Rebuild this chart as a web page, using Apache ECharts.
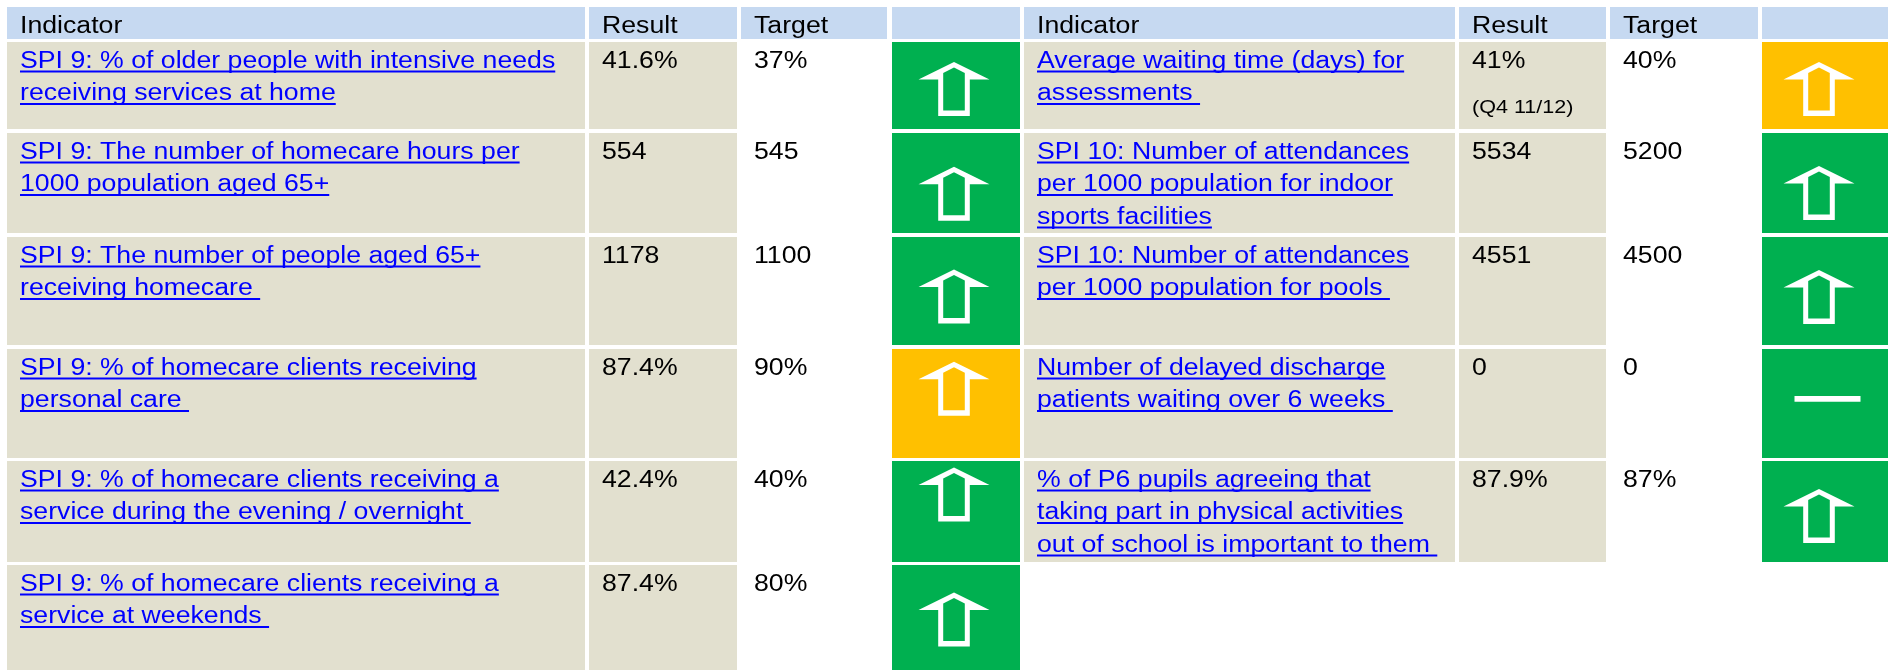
<!DOCTYPE html>
<html><head><meta charset="utf-8">
<script src="https://cdn.jsdelivr.net/npm/echarts@6/dist/echarts.min.js"></script>
<style>html,body{margin:0;padding:0;background:#fff}#c{width:1890px;height:670px}</style>
</head><body><div id="c"></div>
<script>
// ---------- data ----------
const headers = ['Indicator', 'Result', 'Target', ''];
const leftIndicators = [
  'SPI 9: % of older people with intensive needs\nreceiving services at home',
  'SPI 9: The number of homecare hours per\n1000 population aged 65+',
  'SPI 9: The number of people aged 65+\nreceiving homecare ',
  'SPI 9: % of homecare clients receiving\npersonal care ',
  'SPI 9: % of homecare clients receiving a\nservice during the evening / overnight ',
  'SPI 9: % of homecare clients receiving a\nservice at weekends '
];
const leftResults = ['41.6%', '554', '1178', '87.4%', '42.4%', '87.4%'];
const leftTargets = ['37%', '545', '1100', '90%', '40%', '80%'];
const leftStatus = ['green', 'green', 'green', 'amber', 'green', 'green'];
const leftTrend = ['up', 'up', 'up', 'up', 'up', 'up'];

const rightIndicators = [
  'Average waiting time (days) for\nassessments ',
  'SPI 10: Number of attendances\nper 1000 population for indoor\nsports facilities',
  'SPI 10: Number of attendances\nper 1000 population for pools ',
  'Number of delayed discharge\npatients waiting over 6 weeks ',
  '% of P6 pupils agreeing that\ntaking part in physical activities\nout of school is important to them '
];
const rightResults = ['41%', '5534', '4551', '0', '87.9%'];
const rightResultNotes = ['(Q4 11/12)', '', '', '', ''];
const rightTargets = ['40%', '5200', '4500', '0', '87%'];
const rightStatus = ['amber', 'green', 'green', 'green', 'green'];
const rightTrend = ['up', 'up', 'up', 'flat', 'up'];

// ---------- layout & style ----------
const W = 1890, H = 670;
const colsL = [[7, 585], [589, 737], [741, 887], [892, 1020]];
const colsR = [[1024, 1455], [1459, 1606], [1610, 1758], [1762, 1888]];
const headRow = [7, 39];
const rows = [[42, 129], [133, 233], [237, 345], [349, 458], [461, 562], [565, 670]];
const arrowTopL = [20, 33.8, 32.5, 12.7, 6.5, 27.5];
const arrowTopR = [20, 33, 33, 47, 28];
const arrowCxL = 62, arrowCxR = 57, dashCxR = 65.5;
const COLORS = { header: '#C6D9F1', beige: '#E2E0CF', green: '#00B050', amber: '#FFC000', link: '#0000FF', text: '#000000' };
const FS = 23.5, SX = 1.135, FAMILY = '"Liberation Sans", Arial, sans-serif';
const FONT = FS + 'px ' + FAMILY;
const NOTE_FONT = '19px ' + FAMILY;
const PAD = 13, LINE = 32.5, BASE = 27.5, MID = 8.4, HEAD_BASE = 28, NOTE_Y = 66;

const mctx = document.createElement('canvas').getContext('2d');
function measure(t, font) { mctx.font = font; return mctx.measureText(t).width; }

// ---------- build cells ----------
const cells = [];
function addSide(cols, inds, res, notes, tgts, stat, trend, arrowTop, acx) {
  cols.forEach((c, j) => cells.push({ x0: c[0], x1: c[1], y0: headRow[0], y1: headRow[1], fill: COLORS.header, head: headers[j] }));
  inds.forEach((ind, i) => {
    const r = rows[i];
    cells.push({ x0: cols[0][0], x1: cols[0][1], y0: r[0], y1: r[1], fill: COLORS.beige, link: ind });
    cells.push({ x0: cols[1][0], x1: cols[1][1], y0: r[0], y1: r[1], fill: COLORS.beige, val: res[i], note: notes ? notes[i] : '' });
    cells.push({ x0: cols[2][0], x1: cols[2][1], y0: r[0], y1: r[1], fill: null, val: tgts[i] });
    cells.push({ x0: cols[3][0], x1: cols[3][1], y0: r[0], y1: r[1], fill: COLORS[stat[i]], trend: trend[i], atop: arrowTop[i], acx: acx });
  });
}
addSide(colsL, leftIndicators, leftResults, null, leftTargets, leftStatus, leftTrend, arrowTopL, arrowCxL);
addSide(colsR, rightIndicators, rightResults, rightResultNotes, rightTargets, rightStatus, rightTrend, arrowTopR, arrowCxR);

function txt(x, y, s, fill, font) {
  return { type: 'text', x: x, y: y, scaleX: SX, style: { text: s, fill: fill, font: font, align: 'left', verticalAlign: 'middle' } };
}

function renderItem(params, api) {
  const c = cells[params.dataIndex];
  const p0 = api.coord([c.x0, c.y0]);
  const p1 = api.coord([c.x1, c.y1]);
  const x0 = p0[0], y0 = p0[1], w = p1[0] - p0[0], h = p1[1] - p0[1];
  const ch = [];
  if (c.fill) ch.push({ type: 'rect', shape: { x: x0, y: y0, width: w, height: h }, style: { fill: c.fill } });
  if (c.head !== undefined && c.head) ch.push(txt(x0 + PAD, y0 + HEAD_BASE - MID, c.head, COLORS.text, FONT));
  if (c.link) {
    c.link.split('\n').forEach((ln, k) => {
      const base = y0 + BASE + k * LINE;
      ch.push(txt(x0 + PAD, base - MID, ln, COLORS.link, FONT));
      ch.push({ type: 'rect', shape: { x: x0 + PAD, y: base + 1, width: measure(ln, FONT) * SX, height: 2 }, style: { fill: COLORS.link } });
    });
  }
  if (c.val !== undefined) {
    ch.push(txt(x0 + PAD, y0 + BASE - MID, c.val, COLORS.text, FONT));
    if (c.note) ch.push(txt(x0 + PAD, y0 + NOTE_Y, c.note, COLORS.text, NOTE_FONT));
  }
  if (c.trend === 'up') {
    const cx = x0 + c.acx, ty = y0 + c.atop;
    const outer = [[0, 0], [35.5, 17.5], [15.8, 17.5], [15.8, 54], [-15.8, 54], [-15.8, 17.5], [-35.5, 17.5]];
    const inner = [[0, 5.5], [10.8, 11], [10.8, 48.5], [-10.8, 48.5], [-10.8, 11]];
    ch.push({ type: 'polygon', shape: { points: outer.map(p => [cx + p[0], ty + p[1]]) }, style: { fill: '#FFFFFF' } });
    ch.push({ type: 'polygon', shape: { points: inner.map(p => [cx + p[0], ty + p[1]]) }, style: { fill: c.fill } });
  } else if (c.trend === 'flat') {
    const cx = x0 + dashCxR, ty = y0 + c.atop;
    ch.push({ type: 'rect', shape: { x: cx - 33, y: ty, width: 66, height: 5.7 }, style: { fill: '#FFFFFF' } });
  }
  return { type: 'group', children: ch };
}

const chart = echarts.init(document.getElementById('c'), null, { renderer: 'canvas', width: W, height: H });
chart.setOption({
  animation: false,
  backgroundColor: '#FFFFFF',
  grid: { left: 0, right: 0, top: 0, bottom: 0 },
  xAxis: { type: 'value', min: 0, max: W, show: false },
  yAxis: { type: 'value', min: 0, max: H, inverse: true, show: false },
  series: [{
    type: 'custom', coordinateSystem: 'cartesian2d', clip: false,
    data: cells.map(c => [c.x0, c.y0]),
    renderItem: renderItem
  }]
});
</script></body></html>
